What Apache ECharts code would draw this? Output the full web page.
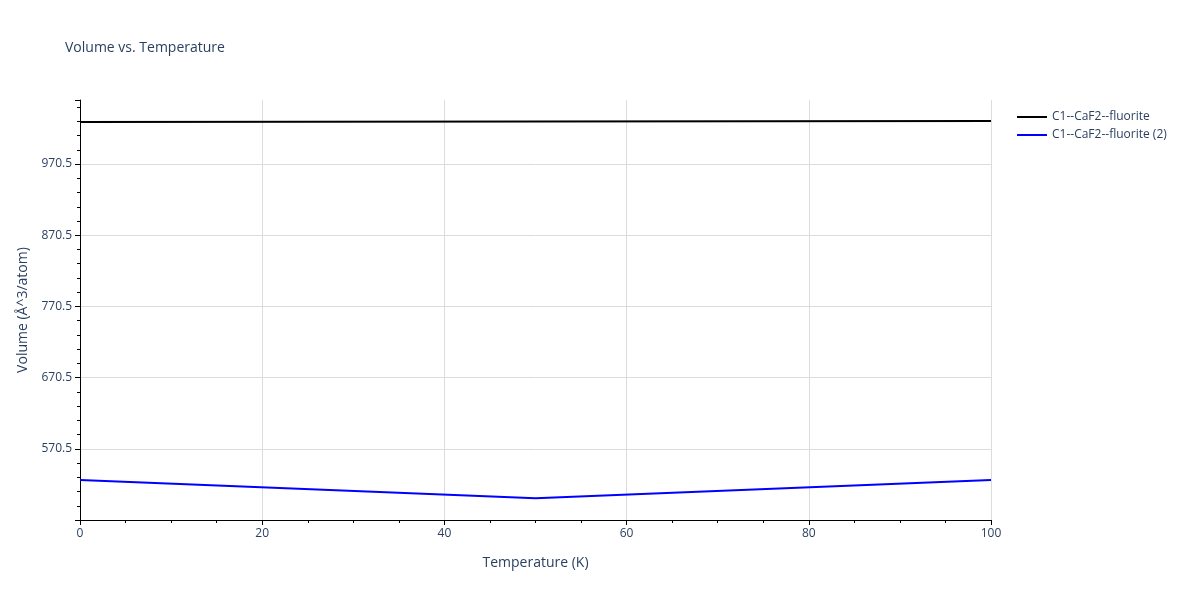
<!DOCTYPE html>
<html><head><meta charset="utf-8">
<script src="https://cdn.jsdelivr.net/npm/echarts@6/dist/echarts.min.js"></script>
<style>html,body{margin:0;padding:0;background:#fff}#c{width:1200px;height:600px}</style>
</head><body><div id="c"></div>
<script>
const temps = [0, 50, 100];
const seriesNames = ['C1--CaF2--fluorite', 'C1--CaF2--fluorite (2)'];
const vol1 = [1029.5, 1030.3, 1031.0];
const vol2 = [526.8, 501.0, 526.8];
const colors = ['#000000', '#0000ff'];
const ch = echarts.init(document.getElementById('c'));
const txt = '#2a3f5f';
ch.setOption({
  animation: false,
  title: {text: 'Volume vs. Temperature', left: 60, top: 36, textStyle: {fontFamily: 'Open Sans', fontSize: 14, fontWeight: 'normal', color: txt}},
  legend: {orient: 'vertical', left: 1012, top: 106, itemGap: 6, itemWidth: 30, itemHeight: 2,
    textStyle: {fontFamily: 'Open Sans', fontSize: 12, color: txt},
    data: seriesNames.map(n => ({name: n, icon: 'rect'}))},
  grid: {left: 80, right: 209, top: 100, bottom: 80},
  xAxis: {type: 'value', min: 0, max: 100, interval: 20,
    name: 'Temperature (K)', nameLocation: 'middle', nameGap: 36,
    nameTextStyle: {fontFamily: 'Open Sans', fontSize: 14, color: txt},
    axisLine: {show: true, onZero: false, lineStyle: {color: '#000'}},
    axisTick: {show: true, length: 5, lineStyle: {color: '#000'}},
    minorTick: {show: true, splitNumber: 4, length: 3, lineStyle: {color: '#000'}},
    axisLabel: {fontFamily: 'Open Sans', fontSize: 12, color: txt, margin: 8},
    splitLine: {show: true, lineStyle: {color: '#dcdcdc'}}},
  yAxis: {type: 'value', min: 470.5, max: 1060.5, interval: 100,
    name: 'Volume (Å^3/atom)', nameLocation: 'middle', nameGap: 50,
    nameTextStyle: {fontFamily: 'Open Sans', fontSize: 14, color: txt},
    axisLine: {show: true, onZero: false, lineStyle: {color: '#000'}},
    axisTick: {show: true, length: 5, lineStyle: {color: '#000'}},
    minorTick: {show: true, splitNumber: 5, length: 3, lineStyle: {color: '#000'}},
    axisLabel: {fontFamily: 'Open Sans', fontSize: 12, color: txt, margin: 8, showMinLabel: false, showMaxLabel: false},
    splitLine: {show: true, showMinLine: false, showMaxLine: false, lineStyle: {color: '#dcdcdc'}}},
  series: [
    {name: seriesNames[0], type: 'line', showSymbol: false, data: temps.map((t, i) => [t, vol1[i]]), lineStyle: {color: colors[0], width: 2}, itemStyle: {color: colors[0]}},
    {name: seriesNames[1], type: 'line', showSymbol: false, data: temps.map((t, i) => [t, vol2[i]]), lineStyle: {color: colors[1], width: 2}, itemStyle: {color: colors[1]}}
  ]
});
</script></body></html>
